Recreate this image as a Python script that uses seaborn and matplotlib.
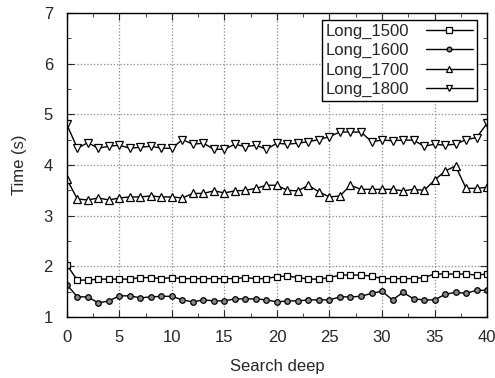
import matplotlib
matplotlib.use('Agg')
import matplotlib.pyplot as plt
import seaborn as sns
import pandas as pd
from matplotlib.ticker import MultipleLocator

# valores (profundidade de busca 0..40)
depth = list(range(41))
long_1500 = [2.03, 1.73, 1.73, 1.75, 1.75, 1.75, 1.75, 1.78, 1.78, 1.76, 1.78,
             1.76, 1.76, 1.76, 1.76, 1.76, 1.76, 1.78, 1.76, 1.76, 1.80, 1.81,
             1.78, 1.75, 1.75, 1.78, 1.83, 1.83, 1.83, 1.81, 1.76, 1.76, 1.76,
             1.76, 1.78, 1.85, 1.85, 1.85, 1.85, 1.83, 1.85]
long_1600 = [1.64, 1.40, 1.40, 1.28, 1.32, 1.42, 1.42, 1.38, 1.40, 1.41, 1.41,
             1.34, 1.30, 1.34, 1.32, 1.32, 1.36, 1.36, 1.36, 1.34, 1.30, 1.32,
             1.32, 1.34, 1.34, 1.34, 1.40, 1.40, 1.41, 1.47, 1.51, 1.34, 1.49,
             1.36, 1.34, 1.34, 1.45, 1.49, 1.47, 1.53, 1.53]
long_1700 = [3.72, 3.33, 3.31, 3.35, 3.31, 3.35, 3.37, 3.37, 3.39, 3.37, 3.37,
             3.35, 3.44, 3.44, 3.49, 3.45, 3.49, 3.50, 3.54, 3.60, 3.60, 3.50,
             3.49, 3.60, 3.47, 3.37, 3.39, 3.60, 3.52, 3.52, 3.52, 3.52, 3.49,
             3.52, 3.50, 3.70, 3.88, 3.98, 3.54, 3.54, 3.56]
long_1800 = [4.80, 4.33, 4.44, 4.33, 4.37, 4.39, 4.33, 4.35, 4.37, 4.33, 4.33,
             4.50, 4.41, 4.43, 4.31, 4.31, 4.41, 4.36, 4.39, 4.31, 4.43, 4.41,
             4.43, 4.46, 4.50, 4.56, 4.65, 4.65, 4.65, 4.46, 4.49, 4.48, 4.49,
             4.49, 4.37, 4.41, 4.39, 4.41, 4.50, 4.54, 4.82]

series = {'Long_1500': long_1500, 'Long_1600': long_1600,
          'Long_1700': long_1700, 'Long_1800': long_1800}
markers = {'Long_1500': 's', 'Long_1600': 'o', 'Long_1700': '^', 'Long_1800': 'v'}
msizes = {'Long_1500': 4.5, 'Long_1600': 4, 'Long_1700': 5.5, 'Long_1800': 5.5}

sns.set_style('ticks')
plt.rcParams['font.family'] = ['Liberation Sans', 'DejaVu Sans']

fig = plt.figure(figsize=(4.95, 3.78), dpi=100)
ax = fig.add_axes([0.135, 0.161, 0.849, 0.805])

for nome, valores in series.items():
    df = pd.DataFrame({'x': depth, 'y': valores})
    sns.lineplot(data=df, x='x', y='y', ax=ax, color='black', linewidth=1,
                 marker=markers[nome], markersize=msizes[nome],
                 markerfacecolor='white' if nome != 'Long_1600' else '#888888',
                 markeredgecolor='black', markeredgewidth=0.9, label=nome)

ax.set_xlim(0, 40)
ax.set_ylim(1, 7)
ax.xaxis.set_major_locator(MultipleLocator(5))
ax.xaxis.set_minor_locator(MultipleLocator(2.5))
ax.yaxis.set_major_locator(MultipleLocator(1))
ax.yaxis.set_minor_locator(MultipleLocator(0.5))
ax.tick_params(which='both', direction='in', top=True, right=True, labelsize=12)
ax.tick_params(which='major', length=5)
ax.tick_params(axis='x', which='major', pad=9)
ax.tick_params(axis='y', which='major', pad=10)
ax.tick_params(which='minor', length=3)
ax.grid(True, which='major', linestyle=':', color='#888888', linewidth=0.9)
for s in ax.spines.values():
    s.set_color('black')
    s.set_linewidth(1)

ax.set_xlabel('Search deep', fontsize=12, labelpad=10)
ax.set_ylabel('Time (s)', fontsize=12, labelpad=12)

leg = ax.legend(loc='upper right', bbox_to_anchor=(0.976, 0.977), borderaxespad=0,
                fontsize=12, markerfirst=False, frameon=True, markerscale=0.85,
                fancybox=False, framealpha=1, edgecolor='black', handlelength=2.8,
                labelspacing=0.25, borderpad=0.25, handletextpad=1.0)
leg.get_frame().set_linewidth(1)

fig.savefig('out.png', dpi=100)
